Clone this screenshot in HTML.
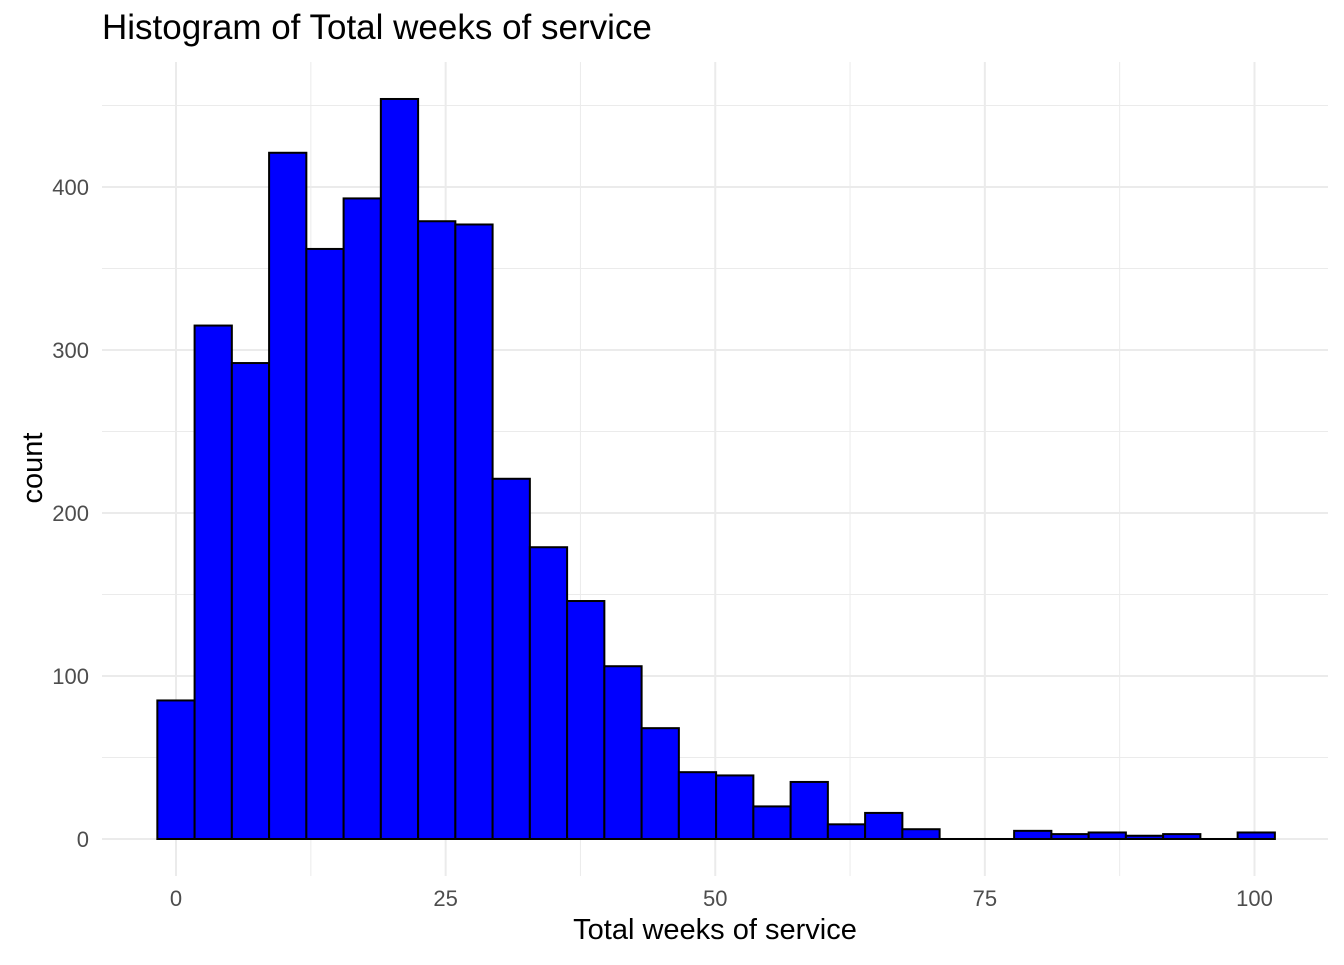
<!DOCTYPE html>
<html><head><meta charset="utf-8"><style>
body{margin:0;background:#fff;font-family:"Liberation Sans",Arial,sans-serif}
svg text{font-family:"Liberation Sans",Arial,sans-serif}
</style></head><body>
<svg id="chart" width="1344" height="960" xmlns="http://www.w3.org/2000/svg">
<text x="102" y="39" font-size="35" fill="#000">Histogram of Total weeks of service</text>
<g id="grid"></g>
<g id="bars"></g>
<g id="ticks"></g>
<text x="715" y="939" font-size="29" text-anchor="middle" fill="#000">Total weeks of service</text>
<text transform="translate(42,468) rotate(-90)" font-size="29" text-anchor="middle" fill="#000">count</text>
</svg>
<script>
const counts=[85,315,292,421,362,393,454,379,377,221,179,146,106,68,41,39,20,35,9,16,6,0,0,5,3,4,2,3,0,4];
const binStart=-1.73;
const binWidth=3.454;
const xTicks=[0,25,50,75,100];
const yTicks=[0,100,200,300,400];
const xMinor=[12.5,37.5,62.5,87.5];
const yMinor=[50,150,250,350,450];
const X=v=>176+v*10.785;
const Y=v=>839-v*1.63;
const NS="http://www.w3.org/2000/svg";
function mk(t,a,p){const e=document.createElementNS(NS,t);for(const k in a)e.setAttribute(k,a[k]);p.appendChild(e);return e;}
const grid=document.getElementById('grid'),bars=document.getElementById('bars'),ticks=document.getElementById('ticks');
yMinor.forEach(v=>{const l=mk('line',{x1:102,x2:1328,y1:Y(v),y2:Y(v),stroke:'#ebebeb','stroke-width':1},grid);

});
xMinor.forEach(v=>{const l=mk('line',{x1:X(v),x2:X(v),y1:62,y2:876,stroke:'#ebebeb','stroke-width':1},grid);

});
yTicks.forEach(v=>{const l=mk('line',{x1:102,x2:1328,y1:Y(v),y2:Y(v),stroke:'#ebebeb','stroke-width':2},grid);


const t=mk('text',{x:89,y:Y(v)+8,'font-size':22,fill:'#4d4d4d','text-anchor':'end'},ticks);t.textContent=v;

});
xTicks.forEach(v=>{const l=mk('line',{x1:X(v),x2:X(v),y1:62,y2:876,stroke:'#ebebeb','stroke-width':2},grid);


const t=mk('text',{x:X(v),y:906,'font-size':22,fill:'#4d4d4d','text-anchor':'middle'},ticks);t.textContent=v;

});
counts.forEach((c,i)=>{const x0=X(binStart+i*binWidth),x1=X(binStart+(i+1)*binWidth);
const h=Math.max(Y(0)-Y(c),0.01);
const r=mk('rect',{x:x0,y:Y(0)-h,width:x1-x0,height:h,fill:'#0000ff',stroke:'#000','stroke-width':2},bars);

});
</script>
</body></html>
